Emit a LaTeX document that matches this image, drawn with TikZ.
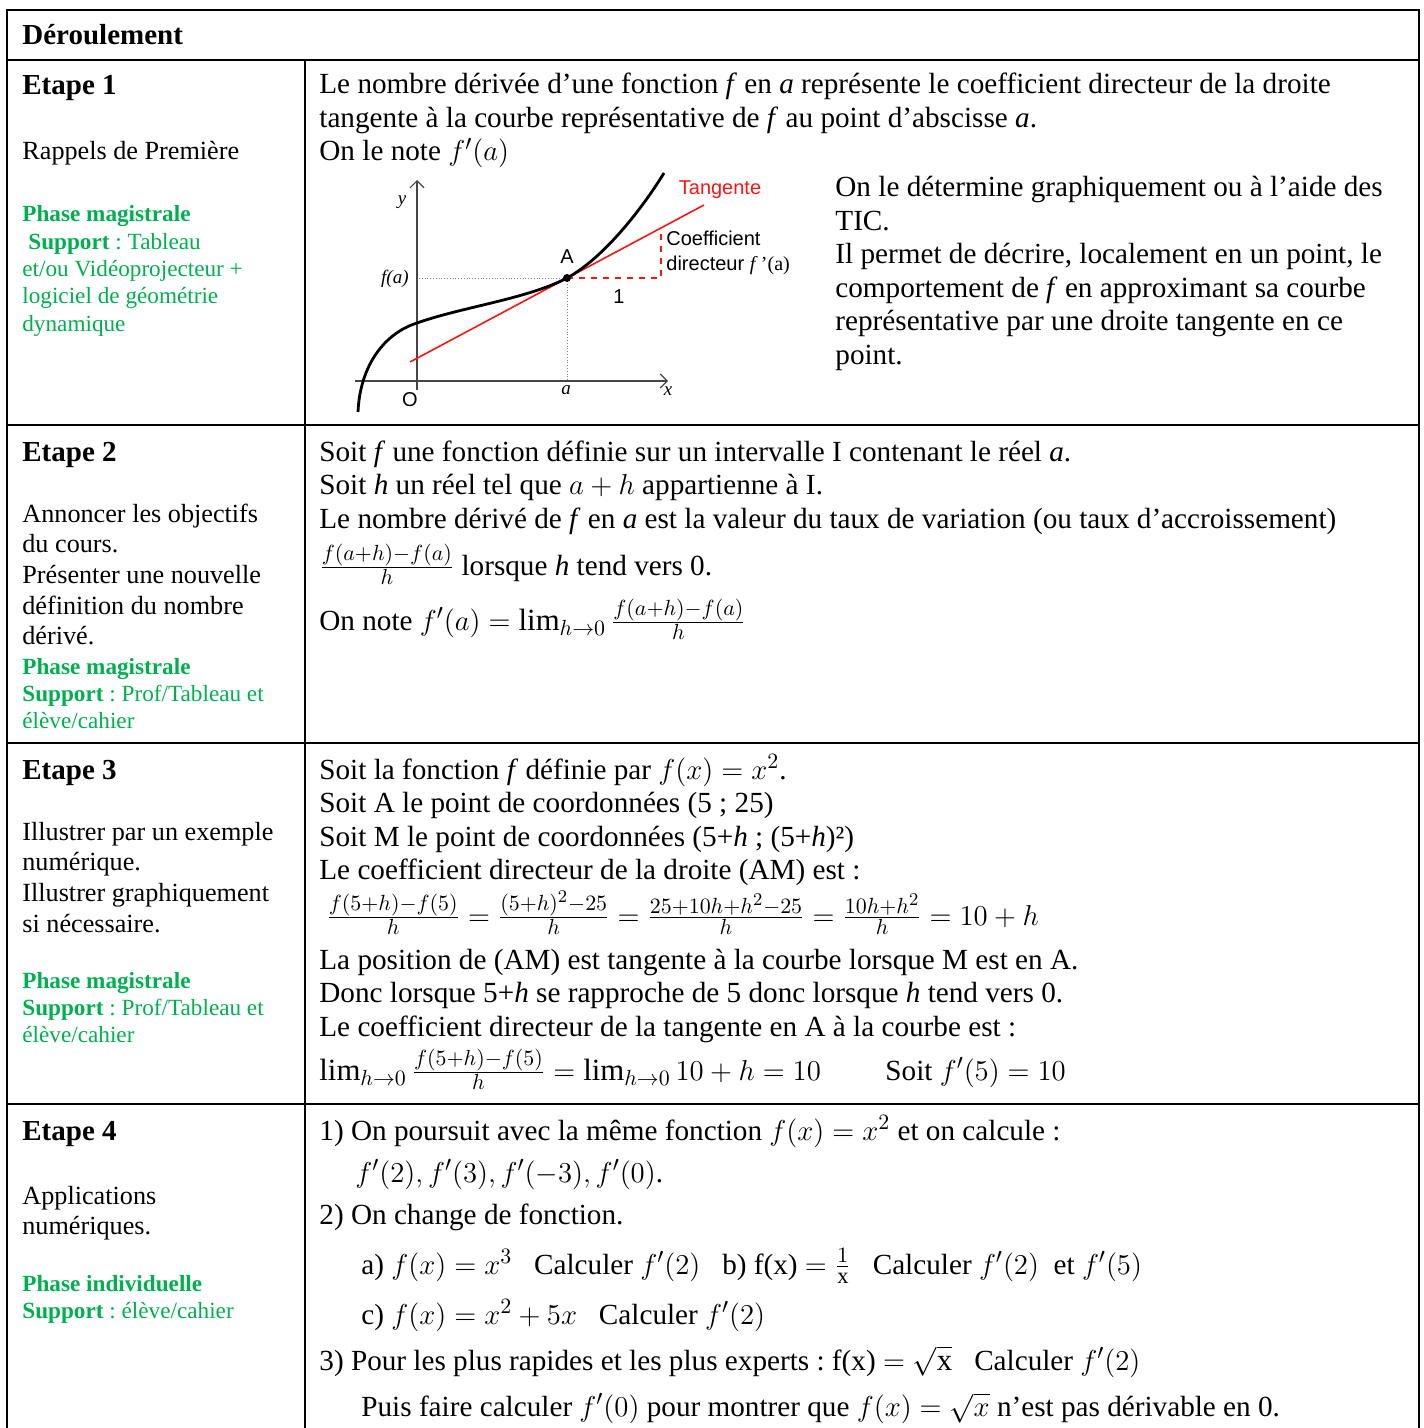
\documentclass[tikz,border=0pt]{standalone}
\usepackage{amsmath}
\usepackage{fontspec}
\setmainfont{Liberation Serif}
\setsansfont{Liberation Sans}
\usepackage{xcolor}
\usetikzlibrary{arrows.meta,positioning}

\definecolor{phasegreen}{RGB}{0,176,80}
\definecolor{tanred}{RGB}{250,20,20}
\definecolor{axisgray}{RGB}{70,70,70}
\newcommand{\fsz}[2]{\fontsize{#1}{#2}\selectfont}
\DeclareMathSizes{14.6}{15.4}{11.2}{9}

\begin{document}
\frenchspacing
\begin{tikzpicture}[
    x=0.5pt, y=-0.5pt,
    grid/.style={line width=1pt, black},
    body/.style={anchor=base west, inner sep=0pt, font=\fsz{14.6}{16.75}},
    bodypar/.style={body, text width=#1, align=flush left},
    steptitle/.style={anchor=base west, inner sep=0pt, font=\fsz{14.5}{17}\bfseries},
    side/.style={anchor=base west, inner sep=0pt, text width=138pt, align=flush left, font=\fsz{13.1}{15.35}},
    phase/.style={anchor=base west, inner sep=0pt, text width=138pt, align=flush left, text=phasegreen, font=\fsz{11.6}{13.65}},
    glabel/.style={inner sep=0pt, font=\sffamily\fsz{10}{12.5}},
    gvar/.style={inner sep=0pt, font=\itshape\fsz{9.5}{12}},
    axis/.style={axisgray, line width=0.6pt, -{Straight Barb[length=3.5pt,width=7pt]}},
]
\useasboundingbox (0,0) rectangle (1423,1428);

% table frame
\draw[grid] (7,1428) -- (7,10) -- (1419,10) -- (1419,1428);
\draw[grid] (7,60) -- (1419,60);
\draw[grid] (7,425) -- (1419,425);
\draw[grid] (7,743) -- (1419,743);
\draw[grid] (7,1104) -- (1419,1104);
\draw[grid] (305,60) -- (305,1428);

% left column
\node[steptitle] (head) at (22,45) {Déroulement};

\node[steptitle] (e1) at (22,95) {Etape 1};
\node[side] (e1txt) at (22,160) {Rappels de Première};
\node[phase] (e1ph) at (22,222) {\textbf{Phase magistrale}\\ \hspace*{3pt}\textbf{Support} : Tableau\\ et/ou Vidéoprojecteur +\\ logiciel de géométrie\\ dynamique};

\node[steptitle] (e2) at (22,461) {Etape 2};
\node[side] (e2txt) at (22,522) {Annoncer les objectifs\\ du cours.\\ Présenter une nouvelle\\ définition du nombre\\ dérivé.};
\node[phase] (e2ph) at (22,674) {\textbf{Phase magistrale}\\ \textbf{Support} : Prof/Tableau et\\ élève/cahier};

\node[steptitle] (e3) at (22,779) {Etape 3};
\node[side] (e3txt) at (22,840) {Illustrer par un exemple\\ numérique.\\ Illustrer graphiquement\\ si nécessaire.};
\node[phase] (e3ph) at (22,988) {\textbf{Phase magistrale}\\ \textbf{Support} : Prof/Tableau et\\ élève/cahier};

\node[steptitle] (e4) at (22,1140) {Etape 4};
\node[side] (e4txt) at (22,1204) {Applications\\ numériques.};
\node[phase] (e4ph) at (22,1291) {\textbf{Phase individuelle}\\ \textbf{Support} : élève/cahier};

% etape 1
\node[bodypar=530pt] (def1) at (319,94) {Le nombre dérivée d’une fonction \textit{f} en \textit{a} représente le coefficient directeur de la droite\\ tangente à la courbe représentative de \textit{f} au point d’abscisse \textit{a}.\\ On le note $f'(a)$};
\node[bodypar=290pt] (tic) at (835,197) {On le détermine graphiquement ou à l’aide des\\ TIC.\\ Il permet de décrire, localement en un point, le\\ comportement de \textit{f} en approximant sa courbe\\ représentative par une droite tangente en ce\\ point.};

% graph of f and its tangent at A
\coordinate (A) at (567,278);
\draw[axis] (355,381) -- (668,381);
\draw[axis] (417,390) -- (417,180);
\draw[gray, densely dotted, line width=0.4pt] (419,278) -- (A) -- (567,381);
\draw[tanred, line width=0.8pt] (410,362) -- (704,205);
\draw[tanred, dashed, line width=0.8pt] (A) -- (661,278) -- (661,228);
\draw[line width=1.4pt] (358,412) .. controls (360,365) and (385,333) .. (417,323)
    .. controls (462,307) and (527,299) .. (A)
    .. controls (602,259) and (640,212) .. (664,173);
\fill (A) circle (4);
\node[glabel, above=7pt of A] (Alab) {A};
\node[gvar] (ylab) at (402,202) {y};
\node[gvar] (xlab) at (668,391) {x};
\node[gvar] (alab) at (566,390) {a};
\node[gvar, anchor=east] (falab) at (409,279) {f(a)};
\node[glabel] (Olab) at (410,400) {O};
\node[glabel] (one) at (619,297) {1};
\node[glabel, text=tanred] (tang) at (720,190) {Tangente};
\node[glabel, anchor=west, align=left] (coef) at (666,253) {Coefficient\\ directeur \textrm{\textit{f}\,’(a)}};

% etape 2
\node[bodypar=530pt] (def2) at (319,461) {Soit \textit{f} une fonction définie sur un intervalle I contenant le réel \textit{a}.\\ Soit \textit{h} un réel tel que $a+h$ appartienne à I.\\ Le nombre dérivé de \textit{f} en \textit{a} est la valeur du taux de variation (ou taux d’accroissement)};
\node[body] (taux) at (319,575) {$\frac{f(a+h)-f(a)}{h}$ lorsque \textit{h} tend vers 0.};
\node[body] (lim) at (319,630) {On note $f'(a)=\lim_{h\to0}\frac{f(a+h)-f(a)}{h}$};

% etape 3
\node[bodypar=530pt] (ex1) at (319,779) {Soit la fonction \textit{f} définie par $f(x)=x^2$.\\ Soit A le point de coordonnées (5 ; 25)\\ Soit M le point de coordonnées (5+\textit{h} ; (5+\textit{h})²)\\ Le coefficient directeur de la droite (AM) est :};
\node[body] (calc) at (326,925) {$\frac{f(5+h)-f(5)}{h}=\frac{(5+h)^2-25}{h}=\frac{25+10h+h^2-25}{h}=\frac{10h+h^2}{h}=10+h$};
\node[bodypar=530pt] (ex2) at (319,969) {La position de (AM) est tangente à la courbe lorsque M est en A.\\ Donc lorsque 5+\textit{h} se rapproche de 5 donc lorsque \textit{h} tend vers 0.\\ Le coefficient directeur de la tangente en A à la courbe est :};
\node[body] (lim5) at (319,1080) {$\lim_{h\to0}\frac{f(5+h)-f(5)}{h}=\lim_{h\to0}10+h=10$};
\node[body] (soit5) at (885,1080) {Soit $f'(5)=10$};

% etape 4
\node[body] (q1) at (319,1140) {1) On poursuit avec la même fonction $f(x)=x^2$ et on calcule :};
\node[body] (q1b) at (355,1182) {$f'(2),f'(3),f'(-3),f'(0)$.};
\node[body] (q2) at (319,1224) {2) On change de fonction.};
\node[body] (q2a) at (361,1274) {a) $f(x)=x^3$\enspace\ Calculer $f'(2)$\enspace\ b) f(x) $=\frac{1}{\mathrm{x}}$\enspace\ Calculer $f'(2)$\ \ et $f'(5)$};
\node[body] (q2c) at (361,1324) {c) $f(x)=x^2+5x$\enspace\ Calculer $f'(2)$};
\node[body] (q3) at (319,1370) {3) Pour les plus rapides et les plus experts : f(x) $=\sqrt{\mathrm{x}}$\enspace\ Calculer $f'(2)$};
\node[body] (q3b) at (361,1416) {Puis faire calculer $f'(0)$ pour montrer que $f(x)=\sqrt{x}$ n’est pas dérivable en 0.};
\end{tikzpicture}
\end{document}
